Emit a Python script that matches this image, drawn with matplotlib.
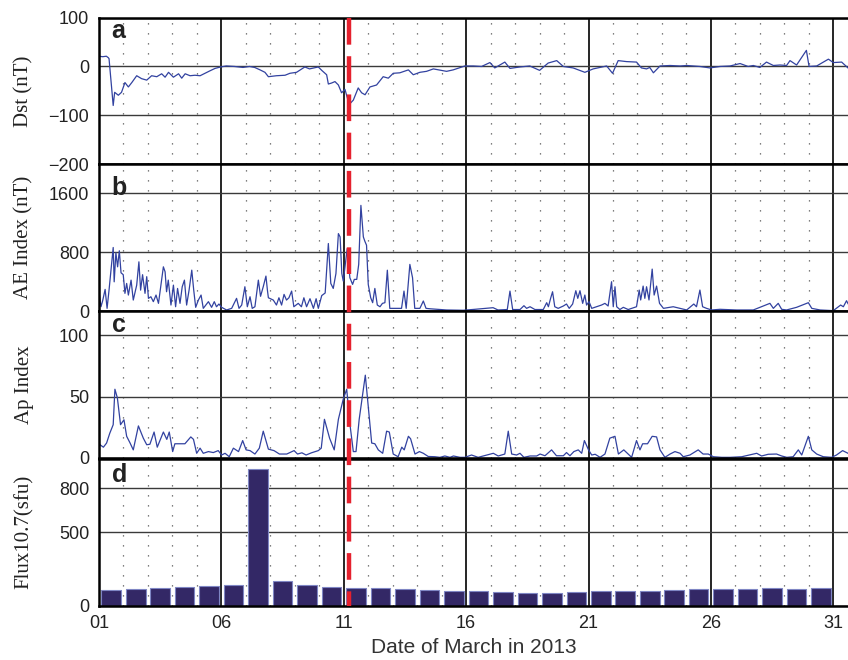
import matplotlib
matplotlib.use("Agg")
import matplotlib.pyplot as plt
import numpy as np
from matplotlib.ticker import MultipleLocator, FixedLocator
from matplotlib.transforms import blended_transform_factory

# ---------------- data ----------------
dst_t = [1.00, 1.15, 1.30, 1.38, 1.41, 1.58, 1.64, 1.79, 1.92, 2.06, 2.20, 2.34, 2.54, 2.74, 2.95,
         3.15, 3.36, 3.56, 3.70, 3.84, 4.04, 4.25, 4.38, 4.52, 4.72, 4.92, 5.13, 5.33, 5.53, 5.74,
         5.97, 6.20, 6.54, 6.88, 7.15, 7.36, 7.58, 7.78, 7.92, 8.25, 8.60, 8.80, 9.07, 9.41, 9.60,
         9.96, 10.10, 10.30, 10.37, 10.50, 10.64, 10.78, 10.91, 11.05, 11.22, 11.39, 11.59, 11.73,
         11.87, 12.07, 12.34, 12.61, 12.82, 13.02, 13.29, 13.64, 13.84, 14.11, 14.38, 14.66, 15.20,
         15.47, 15.95, 16.29, 16.63, 16.97, 17.17, 17.58, 17.79, 18.20, 18.60, 19.00, 19.35, 19.70,
         19.97, 20.37, 20.85, 21.19, 21.74, 21.98, 22.21, 22.55, 22.96, 23.16, 23.37, 23.50, 23.65,
         23.92, 24.33, 24.74, 25.01, 25.55, 25.96, 26.37, 26.78, 27.19, 27.52, 27.73, 28.00, 28.27,
         28.55, 28.82, 29.09, 29.23, 29.50, 29.90, 30.01, 30.32, 30.80, 31.00, 31.34, 31.60]
dst_v = [21, 20, 21, 18, 16, -80, -53, -59, -53, -33, -42, -33, -19, -25, -28,
         -19, -21, -15, -22, -12, -22, -15, -24, -15, -19, -18, -19, -14, -9, -4,
         -1, 1, 0, -2, 0, -2, -7, -12, -21, -19, -18, -14, -12, -1, -5,
         -1, -8, -17, -36, -34, -31, -38, -54, -47, -78, -69, -44, -54,
         -58, -42, -38, -21, -24, -14, -13, -7, -17, -12, -10, -5, -10,
         -7, 1, 1, 0, 8, -3, 9, -4, -1, 1, -8, 7, 12,
         0, -3, -12, -5, 1, -14, 12, 10, 9, -3, -5, -2, -13,
         1, 2, 1, 2, 0, -3, 0, 1, 6, 0, 2, -2, 9,
         2, 3, 2, 12, 3, 33, 0, 1, 15, 8, 9, -3]

ae_t = [1.00, 1.08, 1.15, 1.25, 1.33, 1.41, 1.49, 1.58, 1.62, 1.69, 1.76, 1.83, 1.90, 1.99, 2.06,
        2.13, 2.20, 2.31, 2.40, 2.54, 2.63, 2.70, 2.78, 2.88, 2.95, 3.02, 3.12, 3.22, 3.33, 3.43,
        3.53, 3.63, 3.70, 3.76, 3.83, 3.94, 4.04, 4.13, 4.21, 4.31, 4.40, 4.49, 4.58, 4.68, 4.79,
        4.87, 4.95, 5.06, 5.17, 5.26, 5.47, 5.60, 5.71, 5.80, 5.90, 6.01, 6.21, 6.42, 6.62, 6.72,
        6.83, 6.96, 7.06, 7.17, 7.26, 7.37, 7.51, 7.60, 7.71, 7.82, 7.88, 7.92, 8.12, 8.25, 8.35,
        8.46, 8.56, 8.66, 8.76, 8.87, 8.96, 9.14, 9.27, 9.37, 9.48, 9.62, 9.76, 9.87, 9.96, 10.10,
        10.24, 10.37, 10.47, 10.57, 10.68, 10.78, 10.85, 10.92, 10.98, 11.05, 11.14, 11.25, 11.36,
        11.43, 11.53, 11.61, 11.70, 11.80, 11.86, 11.93, 12.00, 12.10, 12.18, 12.27, 12.37, 12.48,
        12.58, 12.68, 12.78, 12.88, 13.02, 13.22, 13.36, 13.46, 13.55, 13.70, 13.81, 13.90, 14.11,
        14.25, 14.36, 14.53, 15.20, 15.88, 16.36, 17.10, 17.30, 17.68, 17.79, 17.90, 18.20, 18.36,
        18.47, 18.61, 18.81, 19.15, 19.29, 19.36, 19.45, 19.53, 19.62, 19.76, 19.97, 20.10, 20.21,
        20.35, 20.48, 20.56, 20.65, 20.76, 20.85, 20.92, 21.02, 21.13, 21.33, 21.53, 21.67, 21.80,
        21.94, 22.01, 22.08, 22.15, 22.28, 22.42, 22.62, 22.96, 23.07, 23.13, 23.23, 23.30, 23.37,
        23.47, 23.60, 23.68, 23.78, 23.90, 24.06, 24.46, 24.74, 25.01, 25.30, 25.41, 25.55, 25.66,
        25.82, 26.03, 26.37, 27.05, 27.73, 28.41, 28.55, 28.75, 28.89, 29.09, 29.50, 29.98, 30.12,
        30.46, 31.00, 31.30, 31.41, 31.54, 31.60]
ae_v = [262, 58, 140, 294, 36, 284, 556, 864, 397, 793, 601, 820, 520, 494, 240,
        375, 217, 420, 149, 352, 669, 284, 494, 240, 467, 172, 194, 127, 217, 104,
        352, 601, 533, 262, 420, 81, 352, 58, 307, 104, 330, 420, 81, 284, 556,
        284, 50, 149, 217, 36, 127, 50, 127, 58, 95, 50, 14, 36, 172, 36,
        81, 330, 58, 194, 36, 58, 420, 200, 330, 475, 285, 180, 149, 81, 180,
        81, 226, 149, 180, 271, 58, 104, 58, 180, 58, 167, 36, 167, 36, 210,
        245, 918, 375, 307, 510, 1053, 1008, 510, 407, 600, 850, 452, 362,
        430, 430, 634, 1437, 1008, 950, 895, 362, 181, 113, 307, 81, 58,
        104, 113, 555, 36, 36, 36, 36, 271, 36, 634, 452, 36, 36,
        136, 36, 30, 14, 10, 23, 45, 14, 20, 271, 20, 20, 72,
        36, 58, 20, 20, 113, 58, 172, 262, 58, 36, 68, 95, 36,
        95, 276, 172, 276, 104, 217, 81, 127, 36, 58, 81, 104, 68,
        398, 58, 330, 58, 20, 50, 20, 58, 285, 150, 339, 172, 330,
        150, 570, 217, 339, 104, 36, 58, 36, 14, 95, 58, 285, 58,
        36, 14, 23, 14, 14, 104, 36, 104, 23, 14, 50, 113, 36,
        14, 5, 81, 58, 140, 100]

ap_t = [1.00, 1.04, 1.18, 1.31, 1.44, 1.58, 1.65, 1.75, 1.88, 2.02, 2.13, 2.27, 2.40, 2.61, 2.81,
        2.95, 3.08, 3.25, 3.38, 3.63, 3.77, 3.87, 4.01, 4.10, 4.51, 4.75, 4.86, 4.99, 5.13, 5.26,
        5.47, 5.67, 5.87, 6.01, 6.15, 6.32, 6.49, 6.70, 6.87, 7.01, 7.17, 7.37, 7.55, 7.71, 7.92,
        8.15, 8.37, 8.67, 8.97, 9.11, 9.29, 9.46, 9.68, 9.96, 10.08, 10.21, 10.42, 10.61, 10.78,
        10.98, 11.12, 11.26, 11.39, 11.50, 11.63, 11.88, 12.14, 12.27, 12.41, 12.59, 12.75, 12.86,
        13.02, 13.22, 13.37, 13.47, 13.64, 13.73, 13.91, 14.09, 14.25, 14.45, 14.72, 14.93, 15.13,
        15.34, 15.48, 15.75, 15.95, 16.22, 16.49, 16.84, 17.11, 17.31, 17.58, 17.72, 17.86, 18.06,
        18.20, 18.36, 18.61, 18.88, 19.02, 19.22, 19.49, 19.69, 19.97, 20.10, 20.24, 20.40, 20.58,
        20.72, 20.83, 21.00, 21.13, 21.27, 21.47, 21.67, 21.87, 22.08, 22.22, 22.44, 22.76, 22.96,
        23.10, 23.21, 23.41, 23.60, 23.78, 23.92, 24.12, 24.33, 24.53, 24.74, 24.87, 25.14, 25.48,
        25.68, 25.89, 26.10, 26.44, 26.78, 27.26, 27.87, 28.07, 28.34, 28.68, 28.89, 29.10, 29.36,
        29.57, 29.71, 29.98, 30.12, 30.32, 30.59, 30.93, 31.13, 31.38, 31.60]
ap_v = [12, 10.6, 8.6, 12, 20, 27, 56, 49, 27, 31, 17.5, 12, 6.4, 26, 16,
        10.6, 11, 21, 8.6, 21, 15, 21, 5, 11.4, 11.4, 17, 15, 3.6, 7.8, 3.6,
        5, 4.2, 5.8, 2.2, 3.6, 0.8, 7.8, 5, 14, 6.4, 5.8, 3, 7.8, 21.7, 7,
        5.8, 3, 3, 5.8, 3, 4, 2.2, 4, 5.8, 7.8, 31.4, 16, 6.4, 31.4,
        48, 56, 26, 5, 5, 31.4, 67.5, 12, 11.4, 6.4, 3.6, 21.7, 21,
        3, 0.8, 8.6, 6.4, 17.5, 15.5, 3, 5, 3.6, 1, 0.8, 0.3, 1.4,
        0.3, 1.4, 0.3, 0.3, 2.2, 0.3, 2.2, 3.6, 1.4, 3, 21.7, 3, 2.2,
        3.6, 0.3, 1.4, 1.4, 3, 1.6, 6.4, 1.6, 1.6, 4.2, 1.6, 5, 6.4,
        3.6, 14, 6.4, 2.2, 2.8, 0.3, 3, 16, 17.5, 3, 6.4, 0.3, 14,
        6.4, 11.4, 11.4, 17.5, 17, 6.4, 0.3, 3, 5, 3.6, 0.8, 2.2, 6.4,
        3, 3, 0.8, 0.3, 0.3, 0.8, 3.6, 1.4, 2.8, 3, 1.4, 0.3, 0.8,
        6.4, 2.2, 17.5, 6.4, 3, 0.8, 0.3, 2.2, 5.8, 3.6]

flux_days = list(range(1, 31))
flux_v = [108, 112, 121, 128, 135, 142, 931, 165, 142, 130, 124, 124, 112, 108, 101,
          103, 92, 87, 89, 92, 98, 98, 103, 108, 112, 112, 112, 121, 115, 119]

xtick_pos = [1, 6, 11, 16, 21, 26, 31]
xtick_lbl = ['01', '06', '11', '16', '21', '26', '31']
event_day = 11.21

panel_letters = ['a', 'b', 'c', 'd']
ylabels = ['Dst (nT)', 'AE Index (nT)', 'Ap Index', 'Flux10.7(sfu)']
ylims = [(-200, 100), (0, 2000), (0, 120), (0, 1000)]
yticks = [[-200, -100, 0, 100], [0, 800, 1600], [0, 50, 100], [0, 500, 800]]
ytick_lbls = [['\u2212200', '\u2212100', '0', '100'], ['0', '800', '1600'],
              ['0', '50', '100'], ['0', '500', '800']]

# ---------------- figure ----------------
W, H = 848, 660
fig = plt.figure(figsize=(W / 100, H / 100), dpi=100)

left = 99 / W
right = 1.0
tops = [17.7, 164.0, 311.0, 459.0]
bottoms = [164.0, 311.0, 457.7, 605.7]
letter_base = [0.861, 0.789, 0.857, 0.843]

line_col = '#3242a0'
sans = 'Liberation Sans'
serif = 'Liberation Serif'

axes = []
for i in range(4):
    b = 1 - bottoms[i] / H
    h = (bottoms[i] - tops[i]) / H
    ax = fig.add_axes([left, b, right - left, h])
    axes.append(ax)

for i, ax in enumerate(axes):
    ax.set_xlim(1, 31.6)
    ax.set_ylim(*ylims[i])
    ax.yaxis.set_major_locator(FixedLocator(yticks[i]))
    ax.set_yticklabels(ytick_lbls[i], fontfamily=sans, fontsize=13, color='#222222')
    ax.xaxis.set_major_locator(FixedLocator(xtick_pos))
    ax.xaxis.set_minor_locator(MultipleLocator(1))
    ax.tick_params(axis='both', which='both', length=0)
    ax.tick_params(axis='y', pad=7)
    ax.grid(which='major', axis='x', color='black', lw=1.2, zorder=1)
    ax.grid(which='major', axis='y', color='#3a3a3a', lw=1.0, zorder=1)
    ax.grid(which='minor', axis='x', color='#555555', lw=0.9, linestyle=(0, (1, 7)), zorder=1)
    ax.set_axisbelow(True)
    for s in ['left', 'top', 'bottom']:
        ax.spines[s].set_linewidth(1.8)
        ax.spines[s].set_color('black')
        ax.spines[s].set_zorder(5)
    ax.spines['right'].set_visible(False)
    ax.set_ylabel(ylabels[i], fontfamily=serif, fontsize=15, color='#222222', va='center')
    ax.yaxis.set_label_coords(-0.100, 0.5)
    ax.text(0.017, letter_base[i], panel_letters[i], transform=ax.transAxes,
            fontfamily=sans, fontweight='bold', fontsize=18, va='baseline', ha='left',
            color='#222222', zorder=6)
    if i < 3:
        ax.set_xticklabels([])
    else:
        ax.set_xticklabels(xtick_lbl, fontfamily=sans, fontsize=13, color='#222222')
        ax.tick_params(axis='x', pad=7)

axes[0].plot(dst_t, dst_v, color=line_col, lw=0.9, zorder=3)
axes[1].plot(ae_t, ae_v, color=line_col, lw=0.9, zorder=3)
axes[2].plot(ap_t, ap_v, color=line_col, lw=0.9, zorder=3)
axes[3].bar(np.array(flux_days) + 0.5, flux_v, width=0.8, color='#332866',
            edgecolor='#7f86c4', lw=0.8, zorder=3)

axes[3].set_xlabel('Date of March in 2013', fontfamily=sans, fontsize=15,
                   color='#333333', labelpad=4)

# red dashed event line through all panels
trans = blended_transform_factory(axes[3].transData, fig.transFigure)
axes[3].plot([event_day, event_day], [1 - tops[0] / H, 1 - bottoms[3] / H],
             transform=trans, color='#e5212e', lw=3.2, linestyle=(0, (6, 2.6)),
             clip_on=False, zorder=10)

fig.savefig('out.png', dpi=100)
